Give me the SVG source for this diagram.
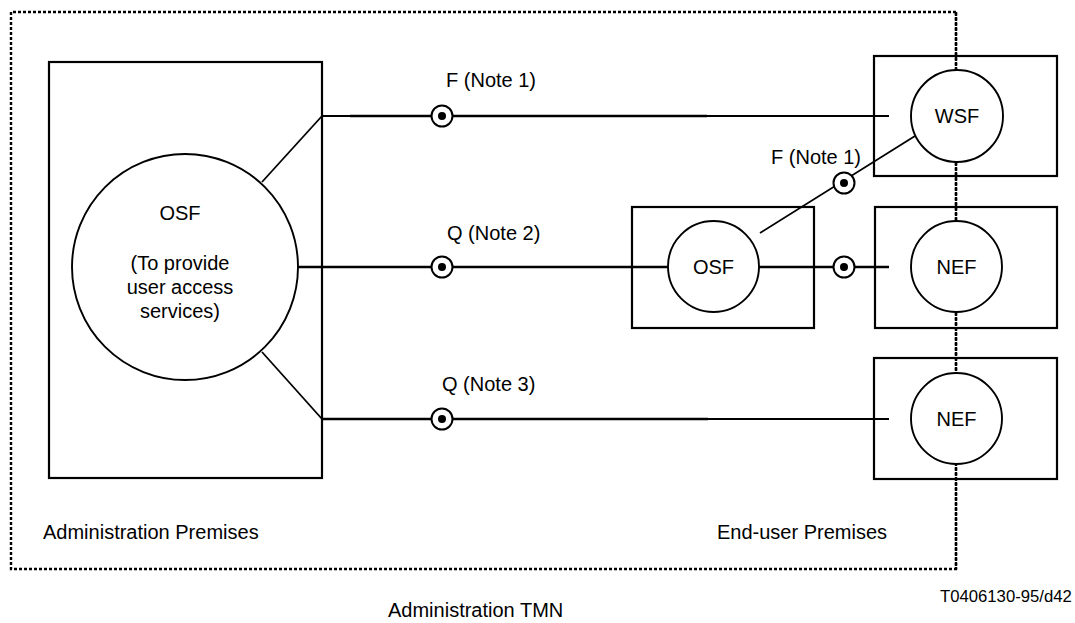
<svg xmlns="http://www.w3.org/2000/svg" width="1075" height="623" viewBox="0 0 1075 623">
<style>
text{font-family:"Liberation Sans",Arial,sans-serif;font-size:20px;fill:#000}
.c{text-anchor:middle}
.box{fill:none;stroke:#000;stroke-width:2.2}
.circ{fill:#fff;stroke:#000;stroke-width:1.9}
.dot{fill:none;stroke:#000;stroke-width:2.4;stroke-dasharray:3 2}
.ln{fill:none;stroke:#000;stroke-width:2.4}
.thin{fill:none;stroke:#000;stroke-width:1.8}
.if{fill:#fff;stroke:#000;stroke-width:2}
</style>
<defs>
<g id="ifc"><circle class="if" r="10.5"/><circle r="4" fill="#000"/></g>
</defs>
<g id="boundary">
<path class="dot" d="M956,12 H11 V569 H956 Z"/>
</g>
<g id="connectors">
<path class="thin" d="M322,116 H350 M707,116 H889"/>
<path class="ln" d="M350,116 H707"/>
<path class="thin" d="M322,116 L262,182"/>
<path class="ln" d="M298,267 H668 M759,267 H889"/>
<path class="thin" d="M760,233 L915,136"/>
<path class="ln" d="M322,419 H708"/>
<path class="thin" d="M708,419 H889"/>
<path class="thin" d="M322,419 L262,352"/>
<use href="#ifc" x="442" y="116"/>
<use href="#ifc" x="442" y="267"/>
<use href="#ifc" x="442" y="419"/>
<use href="#ifc" x="844" y="183"/>
<use href="#ifc" x="844" y="267"/>
<text x="446" y="87">F (Note 1)</text>
<text x="447" y="240">Q (Note 2)</text>
<text x="442" y="391">Q (Note 3)</text>
<text x="771" y="164">F (Note 1)</text>
</g>
<g id="admin-osf">
<rect class="box" x="49" y="62" width="273" height="416"/>
<circle class="circ" cx="185" cy="267" r="113"/>
<text class="c" x="180" y="220">OSF</text>
<text class="c" x="180" y="270">(To provide</text>
<text class="c" x="180" y="294">user access</text>
<text class="c" x="180" y="318">services)</text>
</g>
<g id="osf-small">
<rect class="box" x="632" y="207" width="182" height="121"/>
<circle class="circ" cx="713.5" cy="266.5" r="45.5"/>
<text class="c" x="713.5" y="274">OSF</text>
</g>
<g id="wsf-box"><rect class="box" x="874" y="56" width="183" height="120"/></g>
<g id="nef1-box"><rect class="box" x="875" y="207" width="182" height="121"/></g>
<g id="nef2-box"><rect class="box" x="874" y="358" width="183" height="121"/></g>
<g id="premises-boundary">
<path class="dot" d="M956,12 V569"/>
</g>
<g id="wsf">
<circle class="circ" cx="957" cy="116" r="46"/>
<text class="c" x="957" y="123">WSF</text>
</g>
<g id="nef1">
<circle class="circ" cx="956.5" cy="266.5" r="45.5"/>
<text class="c" x="956.5" y="274">NEF</text>
</g>
<g id="nef2">
<circle class="circ" cx="956.5" cy="418.5" r="45.5"/>
<text class="c" x="956.5" y="426">NEF</text>
</g>
<g id="labels">
<text x="43" y="539">Administration Premises</text>
<text x="717" y="539">End-user Premises</text>
<text x="940" y="602" style="font-size:16.7px">T0406130-95/d42</text>
<text x="388" y="617">Administration TMN</text>
</g>
</svg>
